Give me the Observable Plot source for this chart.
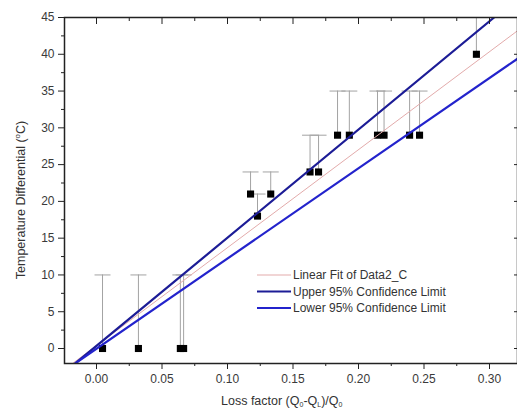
<!DOCTYPE html>
<html><head><meta charset="utf-8">
<script src="https://cdn.jsdelivr.net/npm/d3@7"></script>
<script src="https://cdn.jsdelivr.net/npm/@observablehq/plot@0.6"></script>
<style>
html,body{margin:0;padding:0;background:#fff;}
#chart{position:relative;width:517px;height:410px;overflow:hidden;}
#chart svg{display:block;}
</style></head><body><div id="chart"></div>
<script>
// Data
const lossFactor = [0.0046, 0.032, 0.064, 0.0665, 0.1176, 0.1229, 0.133, 0.163, 0.1695, 0.184, 0.193, 0.2145, 0.2195, 0.239, 0.2466, 0.290];
const tempDiff   = [0, 0, 0, 0, 21, 18, 21, 24, 24, 29, 29, 29, 29, 29, 29, 40];
const errTop     = [10, 10, 10, 10, 24, 21, 24, 29, 29, 35, 35, 35, 35, 35, 35, 47];

const fitX   = [-0.018, 0.3214];  const fitY   = [-2, 43.2];
const upperX = [-0.016, 0.3035];  const upperY = [-2, 45];
const lowerX = [-0.016, 0.3214];  const lowerY = [-2, 39.4];

const xMajorTicks = [0, 0.05, 0.10, 0.15, 0.20, 0.25, 0.30];
const xMinorTicks = [0.025, 0.075, 0.125, 0.175, 0.225, 0.275];
const yMajorTicks = [0, 5, 10, 15, 20, 25, 30, 35, 40, 45];
const yMinorTicks = [2.5, 7.5, 12.5, 17.5, 22.5, 27.5, 32.5, 37.5, 42.5];

const seriesNames = ["Linear Fit of Data2_C", "Upper 95% Confidence Limit", "Lower 95% Confidence Limit"];
const seriesColors = ["#e3abab", "#1c1c96", "#2323cc"];
const seriesWidths = [1, 2.2, 2.2];

const points = lossFactor.map((x, i) => ({x, y: tempDiff[i], top: errTop[i]}));
const fitLine = fitX.map((x, i) => ({x, y: fitY[i]}));
const upperLine = upperX.map((x, i) => ({x, y: upperY[i]}));
const lowerLine = lowerX.map((x, i) => ({x, y: lowerY[i]}));

const capSymbol = { draw(ctx, size) { ctx.moveTo(-8, 0); ctx.lineTo(8, 0); } };
const blank = () => "";

const svg = Plot.plot({
  width: 517, height: 410,
  marginLeft: 64, marginRight: 0, marginTop: 17, marginBottom: 47,
  style: {fontFamily: "'Liberation Sans', Arial, sans-serif", fontSize: "12px", color: "#222", background: "#fff"},
  x: {domain: [-0.02443, 0.32137], label: null},
  y: {domain: [-2.039, 45], label: null},
  marks: [
    Plot.ruleX(points, {x: "x", y1: "y", y2: "top", stroke: "#a3a3a3", strokeWidth: 1, clip: true}),
    Plot.dot(points, {x: "x", y: "top", symbol: capSymbol, stroke: "#a3a3a3", strokeWidth: 1, fill: "none", clip: true}),
    Plot.dot(points, {x: "x", y: "y", symbol: "square", r: 4, fill: "#000", stroke: "none"}),
    Plot.line(fitLine, {x: "x", y: "y", stroke: seriesColors[0], strokeWidth: seriesWidths[0], clip: true}),
    Plot.line(upperLine, {x: "x", y: "y", stroke: seriesColors[1], strokeWidth: seriesWidths[1], clip: true}),
    Plot.line(lowerLine, {x: "x", y: "y", stroke: seriesColors[2], strokeWidth: seriesWidths[2], clip: true}),
    Plot.axisX(xMajorTicks, {anchor: "bottom", tickSize: 6, tickPadding: 5, tickFormat: d3.format(".2f"), fill: "#3a3a3a", label: null}),
    Plot.axisX(xMinorTicks, {anchor: "bottom", tickSize: 3, tickFormat: blank, label: null}),
    Plot.axisX(xMajorTicks, {anchor: "top", tickSize: -6, tickFormat: blank, label: null}),
    Plot.axisX(xMinorTicks, {anchor: "top", tickSize: -3, tickFormat: blank, label: null}),
    Plot.axisY(yMajorTicks, {anchor: "left", tickSize: 6, tickPadding: 4, tickFormat: d3.format("d"), fill: "#3a3a3a", label: null}),
    Plot.axisY(yMinorTicks, {anchor: "left", tickSize: 3, tickFormat: blank, label: null}),
    Plot.axisY(yMajorTicks, {anchor: "right", tickSize: -4, tickFormat: blank, label: null}),
    Plot.frame({stroke: "#222", strokeWidth: 1.5})
  ]
});
document.getElementById("chart").appendChild(svg);

const s = d3.select(svg);
const font = "'Liberation Sans', Arial, sans-serif";

// Legend
const lg = s.append("g").attr("font-family", font).attr("font-size", 12).attr("fill", "#333").attr("text-anchor", "start");
seriesNames.forEach((name, i) => {
  const yy = 275 + i * 16.5;
  lg.append("line").attr("x1", 257).attr("x2", 291).attr("y1", yy).attr("y2", yy)
    .attr("stroke", seriesColors[i]).attr("stroke-width", seriesWidths[i]);
  lg.append("text").attr("x", 293).attr("y", yy).attr("dy", "0.35em").attr("text-anchor", "start").text(name);
});

// Y axis label
const yl = s.append("text").attr("font-family", font).attr("font-size", 12.5).attr("fill", "#333")
  .attr("text-anchor", "middle").attr("transform", "translate(25,200) rotate(-90)");
yl.append("tspan").text("Temperature Differential (");
yl.append("tspan").attr("font-size", 8).attr("dy", -5).text("o");
yl.append("tspan").attr("dy", 5).text("C)");

// X axis label
const xl = s.append("text").attr("font-family", font).attr("font-size", 12.5).attr("fill", "#333")
  .attr("text-anchor", "start").attr("x", 221).attr("y", 405);
xl.append("tspan").text("Loss factor (Q");
xl.append("tspan").attr("font-size", 7).attr("dy", 2).text("0");
xl.append("tspan").attr("dy", -2).text("-Q");
xl.append("tspan").attr("font-size", 7).attr("dy", 2).text("L");
xl.append("tspan").attr("dy", -2).text(")/Q");
xl.append("tspan").attr("font-size", 7).attr("dy", 2).text("0");
</script>
</body></html>
